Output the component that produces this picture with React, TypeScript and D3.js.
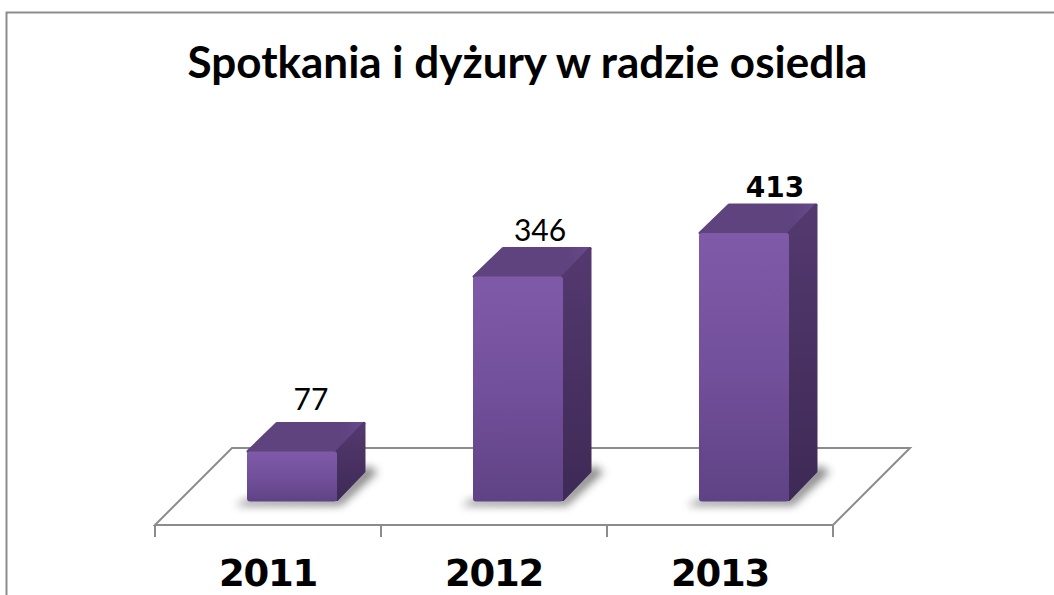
import React from "react";
import * as d3 from "d3";

const titleText = "Spotkania i dyżury w radzie osiedla";
const years = ["2011", "2012", "2013"];
const counts = [77, 346, 413];
const boldValue = [false, false, true];
const labelDx = [43, 46, 55];
const labelDy = [-11, -6, -6];

const W = 1054, H = 595;
const x = d3.scaleBand<string>().domain(years).range([155, 833]);
const y = d3.scaleLinear().domain([0, 413]).range([501.5, 233]);
const barW = 90, dx = 29, dy = 30, floorD = 77;
const frontY = 525;

const GRID = "#8c8c8c";
const TAHOMA = "Tahoma, 'DejaVu Sans', Verdana, sans-serif";
const CALIBRI = "Lato, Carlito, Calibri, sans-serif";

const pts = (a: number[][]) => a.map(p => p.join(",")).join(" ");

export default function App() {
  const [x0, x1] = x.range();
  const ticks = [...years.map(d => x(d) as number), x1];
  return (
    <svg width={W} height={H} viewBox={`0 0 ${W} ${H}`} style={{ position: "absolute", left: 0, top: 0, background: "#fff" }}>
      <defs>
        <linearGradient id="front" x1="0" y1="0" x2="0" y2="1">
          <stop offset="0" stopColor="#7f5aa9" />
          <stop offset="0.5" stopColor="#73509b" />
          <stop offset="1" stopColor="#5f4285" />
        </linearGradient>
        <linearGradient id="side" x1="0" y1="0" x2="0" y2="1">
          <stop offset="0" stopColor="#54396f" />
          <stop offset="1" stopColor="#3e2a56" />
        </linearGradient>
        <linearGradient id="top" x1="0" y1="0" x2="1" y2="0">
          <stop offset="0" stopColor="#5e437f" />
          <stop offset="0.8" stopColor="#5e437f" />
          <stop offset="1" stopColor="#674a8b" />
        </linearGradient>
        <filter id="blur" x="-30%" y="-50%" width="160%" height="200%">
          <feGaussianBlur stdDeviation="4" />
        </filter>
      </defs>

      <rect x={6.5} y={12.5} width={W + 10} height={H + 10} fill="#fff" stroke="#8c8c8c" strokeWidth={2} />

      <text x={527.5} y={78} textAnchor="middle" fontFamily={CALIBRI} fontWeight={700} fontSize={44} fill="#000">{titleText}</text>

      <polygon points={pts([[x0, frontY], [x0 + floorD, frontY - floorD], [x1 + floorD, frontY - floorD], [x1, frontY]])} fill="none" stroke={GRID} strokeWidth={2} />
      {ticks.map((t, i) => (
        <line key={i} x1={t} x2={t} y1={frontY} y2={frontY + 12} stroke={GRID} strokeWidth={2} />
      ))}

      {years.map((yr, i) => {
        const center = (x(yr) as number) + x.bandwidth() / 2;
        const left = center + 24 - barW / 2;
        const right = left + barW;
        const base = y(0);
        const topY = y(counts[i]);
        return (
          <g key={yr}>
            <polygon
              points={pts([[left - 12, base + 4], [right + 4, base + 4], [right + dx + 12, base - dy], [right + dx, base - dy - 6], [right, base - 4], [left, base - 2]])}
              fill="#555" opacity={0.7} filter="url(#blur)"
            />
            <polygon points={pts([[left + 1, topY], [left + dx + 1, topY - dy + 2], [right + dx - 2, topY - dy + 2], [right, topY]])} fill="url(#top)" stroke="url(#top)" strokeWidth={3} strokeLinejoin="round" />
            <polygon points={pts([[right, topY], [right + dx - 2, topY - dy + 2], [right + dx - 2, base - dy], [right, base - 2]])} fill="url(#side)" stroke="url(#side)" strokeWidth={3} strokeLinejoin="round" />
            <rect x={left} y={topY} width={barW} height={base - topY} rx={3} fill="url(#front)" />
            <text
              x={center + labelDx[i]}
              y={topY - dy + labelDy[i]}
              textAnchor="middle"
              fontFamily={boldValue[i] ? TAHOMA : CALIBRI}
              fontWeight={boldValue[i] ? 700 : 400}
              fontSize={boldValue[i] ? 28 : 30}
              fill="#000"
            >{counts[i]}</text>
            <text x={center} y={586} textAnchor="middle" fontFamily={TAHOMA} fontWeight={700} fontSize={37} letterSpacing={-1.2} fill="#000">{yr}</text>
          </g>
        );
      })}
    </svg>
  );
}
